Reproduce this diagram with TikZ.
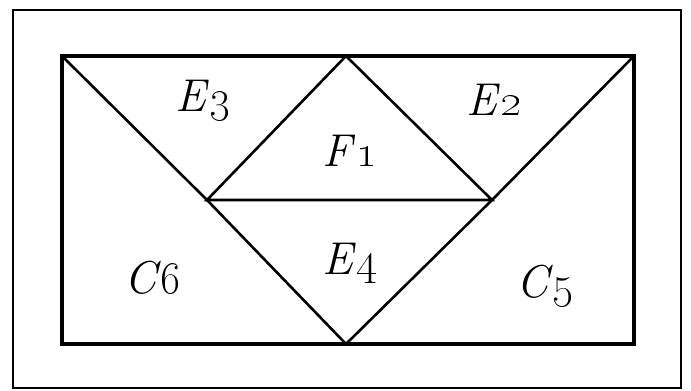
\documentclass[tikz,border=0pt]{standalone}
\usepackage{graphicx}
\usepackage{tikz}

\newcommand{\lbl}[2]{\scalebox{1.85}{\Huge\textit{#1}\oldstylenums{#2}}}

\begin{document}
\begin{tikzpicture}[
  x=1pt, y=-1pt,
  frame/.style={draw, line width=1.4pt},
  edge/.style={draw, line width=3.6pt},
  cut/.style={draw, line width=2.6pt, line join=miter},
  tag/.style={inner sep=0pt}
]
  \useasboundingbox (0,0) rectangle (691,391);
  \draw[frame] (13,10) rectangle (681,388);

  \coordinate (tl)  at (62,56);
  \coordinate (tr)  at (634,56);
  \coordinate (br)  at (634,344);
  \coordinate (bl)  at (62,344);
  \coordinate (top) at (346,56);
  \coordinate (bot) at (346,344);
  \coordinate (ml)  at (207,200);
  \coordinate (mr)  at (492,200);

  \draw[edge] (tl) -- (tr) -- (br) -- (bl) -- cycle;
  \draw[cut] (tl) -- (ml) -- (bot) -- (mr) -- (tr);
  \draw[cut] (ml) -- (top) -- (mr) -- cycle;

  \node[tag] (e3) at (203,100) {\lbl{E}{3}};
  \node[tag] (e2) at (494,100) {\lbl{E}{2}};
  \node[tag] (f1) at (350,151) {\lbl{F}{1}};
  \node[tag] (e4) at (350,263) {\lbl{E}{4}};
  \node[tag] (c6) at (153,278) {\lbl{C}{6}};
  \node[tag] (c5) at (545,286) {\lbl{C}{5}};
\end{tikzpicture}
\end{document}
